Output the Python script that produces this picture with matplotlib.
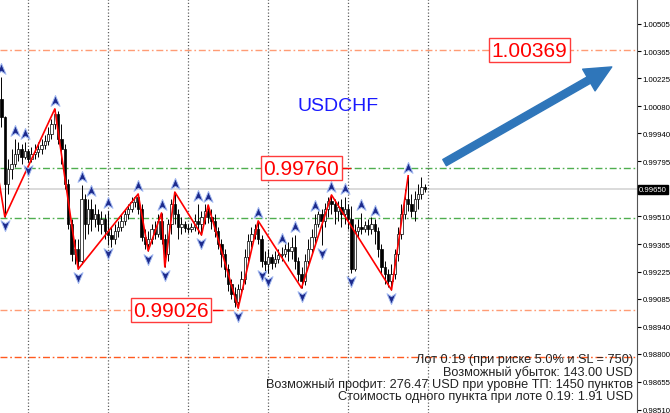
import numpy as np
import matplotlib.pyplot as plt
import matplotlib.transforms as mtransforms
from matplotlib.path import Path
from matplotlib.patches import FancyArrowPatch

plt.rcParams['font.family'] = ['Liberation Sans', 'DejaVu Sans']

# USDCHF bars, open of each bar = close of the previous one
first_open = 1.00117
closes = [
    1.00025, 0.99678, 0.99755, 0.99781, 0.99833, 0.99859, 0.99818, 0.99849, 0.99807, 0.99833,
    0.99843, 0.99859, 0.99880, 0.99900, 0.99936, 0.99988, 1.00040, 0.99911, 0.99859, 0.99678,
    0.99471, 0.99316, 0.99342, 0.99280, 0.99600, 0.99471, 0.99549, 0.99497, 0.99523, 0.99471,
    0.99497, 0.99435, 0.99414, 0.99394, 0.99435, 0.99456, 0.99487, 0.99523, 0.99549, 0.99584,
    0.99610, 0.99549, 0.99404, 0.99368, 0.99394, 0.99445, 0.99419, 0.99487, 0.99394, 0.99316,
    0.99471, 0.99574, 0.99523, 0.99456, 0.99471, 0.99451, 0.99445, 0.99456, 0.99487, 0.99471,
    0.99508, 0.99539, 0.99508, 0.99487, 0.99435, 0.99368, 0.99316, 0.99238, 0.99161, 0.99109,
    0.99067, 0.99135, 0.99187, 0.99301, 0.99384, 0.99419, 0.99445, 0.99394, 0.99280, 0.99264,
    0.99301, 0.99270, 0.99290, 0.99311, 0.99316, 0.99342, 0.99332, 0.99352, 0.99280, 0.99212,
    0.99177, 0.99280, 0.99342, 0.99404, 0.99471, 0.99523, 0.99487, 0.99549, 0.99590, 0.99574,
    0.99539, 0.99559, 0.99523, 0.99549, 0.99497, 0.99238, 0.99435, 0.99456, 0.99445, 0.99466,
    0.99445, 0.99471, 0.99435, 0.99342, 0.99249, 0.99212, 0.99177, 0.99212, 0.99316, 0.99419,
    0.99523, 0.99600, 0.99574, 0.99539, 0.99600, 0.99626, 0.99662, 0.99650,
]
highs = [
    1.00231, 1.00030, 0.99807, 0.99859, 0.99911, 0.99895, 0.99885, 0.99895, 0.99859, 0.99869,
    0.99885, 0.99895, 0.99911, 0.99932, 0.99972, 1.00014, 1.00066, 1.00056, 0.99988, 0.99885,
    0.99704, 0.99497, 0.99394, 0.99394, 0.99673, 0.99626, 0.99600, 0.99600, 0.99574, 0.99549,
    0.99539, 0.99523, 0.99539, 0.99456, 0.99471, 0.99487, 0.99523, 0.99549, 0.99574, 0.99610,
    0.99616, 0.99626, 0.99574, 0.99445, 0.99435, 0.99471, 0.99487, 0.99523, 0.99528, 0.99419,
    0.99497, 0.99600, 0.99636, 0.99549, 0.99508, 0.99487, 0.99471, 0.99476, 0.99523, 0.99574,
    0.99539, 0.99574, 0.99569, 0.99549, 0.99523, 0.99456, 0.99394, 0.99342, 0.99264, 0.99187,
    0.99145, 0.99161, 0.99228, 0.99342, 0.99419, 0.99456, 0.99471, 0.99487, 0.99414, 0.99332,
    0.99342, 0.99316, 0.99332, 0.99342, 0.99352, 0.99368, 0.99378, 0.99404, 0.99414, 0.99301,
    0.99249, 0.99316, 0.99394, 0.99445, 0.99523, 0.99539, 0.99549, 0.99579, 0.99610, 0.99621,
    0.99600, 0.99590, 0.99600, 0.99610, 0.99574, 0.99564, 0.99471, 0.99497, 0.99528, 0.99487,
    0.99497, 0.99508, 0.99497, 0.99456, 0.99368, 0.99280, 0.99238, 0.99264, 0.99342, 0.99456,
    0.99574, 0.99652, 0.99720, 0.99626, 0.99642, 0.99678, 0.99714, 0.99678,
]
lows = [
    0.99973, 0.99508, 0.99626, 0.99704, 0.99766, 0.99797, 0.99781, 0.99807, 0.99791, 0.99791,
    0.99807, 0.99818, 0.99833, 0.99859, 0.99880, 0.99911, 0.99962, 0.99885, 0.99781, 0.99652,
    0.99445, 0.99280, 0.99264, 0.99238, 0.99264, 0.99394, 0.99419, 0.99435, 0.99456, 0.99435,
    0.99419, 0.99394, 0.99363, 0.99352, 0.99368, 0.99404, 0.99435, 0.99466, 0.99497, 0.99533,
    0.99559, 0.99523, 0.99384, 0.99342, 0.99332, 0.99368, 0.99394, 0.99404, 0.99368, 0.99249,
    0.99280, 0.99419, 0.99471, 0.99394, 0.99419, 0.99430, 0.99425, 0.99430, 0.99435, 0.99419,
    0.99414, 0.99471, 0.99476, 0.99445, 0.99404, 0.99342, 0.99249, 0.99197, 0.99125, 0.99083,
    0.99042, 0.99036, 0.99109, 0.99161, 0.99280, 0.99352, 0.99394, 0.99368, 0.99249, 0.99228,
    0.99218, 0.99238, 0.99249, 0.99270, 0.99280, 0.99301, 0.99280, 0.99290, 0.99238, 0.99177,
    0.99140, 0.99156, 0.99264, 0.99316, 0.99368, 0.99456, 0.99363, 0.99456, 0.99508, 0.99523,
    0.99471, 0.99487, 0.99456, 0.99471, 0.99445, 0.99218, 0.99228, 0.99404, 0.99419, 0.99430,
    0.99414, 0.99419, 0.99368, 0.99301, 0.99212, 0.99161, 0.99145, 0.99130, 0.99187, 0.99280,
    0.99394, 0.99497, 0.99539, 0.99508, 0.99487, 0.99549, 0.99600, 0.99636,
]

# zigzag pivots (bar index, price), first one is off-screen
zz_idx = [-6, 1, 16, 23, 41, 44, 48, 49, 52, 60, 62, 71, 77, 90, 99, 117, 122]
zz_price = [1.00246, 0.99508, 1.00066, 0.99238, 0.99626, 0.99332, 0.99528, 0.99249,
            0.99636, 0.99414, 0.99569, 0.99036, 0.99487, 0.99140, 0.99621, 0.99130, 0.99720]

# fractal bars
frac_up = [0, 4, 7, 16, 24, 27, 32, 41, 48, 52, 59, 62, 77, 84, 88, 94, 99, 103, 108, 112, 122]
frac_down = [1, 8, 23, 32, 44, 49, 60, 71, 78, 80, 90, 96, 105, 117]

green_levels = [0.99760, 0.99500]
orange_levels = [1.00369, 0.99026]
red_level = 0.98785
bid = 0.99650

y_ticks = [1.00505, 1.00365, 1.00225, 1.00080, 0.99940, 0.99795, 0.99510,
           0.99365, 0.99225, 0.99085, 0.98940, 0.98800, 0.98655, 0.98510]
grid_bars = [8, 32, 56, 80, 104, 128]

info_lines = [
    "Лот 0.19 (при риске 5.0% и SL = 750)",
    "Возможный убыток: 143.00 USD",
    "Возможный профит: 276.47 USD при уровне ТП: 1450 пунктов",
    "Стоимость одного пункта при лоте 0.19: 1.91 USD",
]

closes = np.array(closes)
highs = np.array(highs)
lows = np.array(lows)
opens = np.concatenate([[first_open], closes[:-1]])
x = np.arange(len(closes))

fig = plt.figure(figsize=(6.7, 4.14), dpi=100)
ax = fig.add_axes([0, 0, 637 / 670, 1])
ax.set_xlim(-0.45, 190.65)
ax.set_ylim(0.98494, 1.00634)

for gb in grid_bars:
    ax.axvline(gb, color='#606060', lw=0.9, ls=(0, (1, 1.6)), zorder=2)

dashdot = (0, (5, 2, 1.2, 2))
for lv in green_levels:
    ax.axhline(lv, color='#4fae4f', lw=1, ls=dashdot, zorder=1)
for lv in orange_levels:
    ax.axhline(lv, color='#ff9c75', lw=1, ls=dashdot, zorder=1)
ax.axhline(red_level, color='#ff5a1f', lw=1, ls=dashdot, zorder=1)
ax.axhline(bid, color='#d8d8d8', lw=1.3, zorder=1)

# candles
bull = closes >= opens
ax.vlines(x, lows, highs, color='black', lw=0.7, zorder=3)
body_lo = np.minimum(opens, closes)
body_h = np.maximum(np.abs(closes - opens), 0.00002)
ax.bar(x, body_h, bottom=body_lo, width=0.62,
       color=np.where(bull, 'white', 'black'), edgecolor='black', lw=0.5, zorder=3)

ax.plot(zz_idx, zz_price, color='red', lw=1.2, zorder=4)

up_marker = Path([(0, 1), (0.75, -0.8), (0, -0.3), (-0.75, -0.8), (0, 1)],
                 [Path.MOVETO, Path.LINETO, Path.LINETO, Path.LINETO, Path.CLOSEPOLY])
down_marker = Path([(0, -1), (0.75, 0.8), (0, 0.3), (-0.75, 0.8), (0, -1)],
                   [Path.MOVETO, Path.LINETO, Path.LINETO, Path.LINETO, Path.CLOSEPOLY])
ax.scatter(frac_up, highs[frac_up] + 0.00042, marker=up_marker, s=75,
           c='#1c2a8c', edgecolors='#9fb6f0', linewidths=0.7, zorder=5)
ax.scatter(frac_down, lows[frac_down] - 0.00042, marker=down_marker, s=75,
           c='#1c2a8c', edgecolors='#9fb6f0', linewidths=0.7, zorder=5)

box = dict(boxstyle='square,pad=0.12', fc='white', ec='#ff3b3b', lw=1)
ax.text(158.3, 1.00369, '1.00369', color='red', fontsize=15, ha='center', va='center', bbox=box, zorder=6)
ax.text(89.9, 0.99760, '0.99760', color='red', fontsize=15, ha='center', va='center', bbox=box, zorder=6)
ax.text(50.9, 0.99026, '0.99026', color='red', fontsize=15, ha='center', va='center', bbox=box, zorder=6)
ax.plot([102.6, 104.6], [0.99760, 0.99760], color='red', lw=1, zorder=6)
ax.plot([63.5, 66.2], [0.99026, 0.99026], color='red', lw=1, zorder=6)

ax.text(100.95, 1.00081, 'USDCHF', color='#1a1aff', fontsize=14, ha='center', va='center')

arrow = FancyArrowPatch((132.2, 0.99781), (183.8, 1.00290),
                        arrowstyle='simple,head_length=0.95,head_width=0.9,tail_width=0.26',
                        mutation_scale=20, color='#2f76ba', zorder=6)
ax.add_patch(arrow)

for k, line in enumerate(info_lines):
    ax.text(633 / 637, 1 - (360 + 12.4 * k) / 414, line, transform=ax.transAxes,
            ha='right', va='center', fontsize=9.2, color='#222222', zorder=1.5)

# right price scale
ax.yaxis.tick_right()
ax.set_yticks(y_ticks)
ax.set_yticklabels([f'{v:.5f}' for v in y_ticks])
ax.set_ylim(0.98494, 1.00634)
ax.tick_params(axis='y', labelsize=5.6, length=3, width=0.8, pad=1.2, colors='black')
ax.set_xticks([])
for side in ['left', 'top', 'bottom']:
    ax.spines[side].set_visible(False)
ax.spines['right'].set_color('#555555')

trans = mtransforms.blended_transform_factory(ax.transAxes, ax.transData)
ax.text(1.003, bid, f'{bid:.5f}', transform=trans, color='white', fontsize=5.6,
        ha='left', va='center', clip_on=False,
        bbox=dict(boxstyle='square,pad=0.12', fc='black', ec='black'))

fig.savefig('out.png', dpi=100)
